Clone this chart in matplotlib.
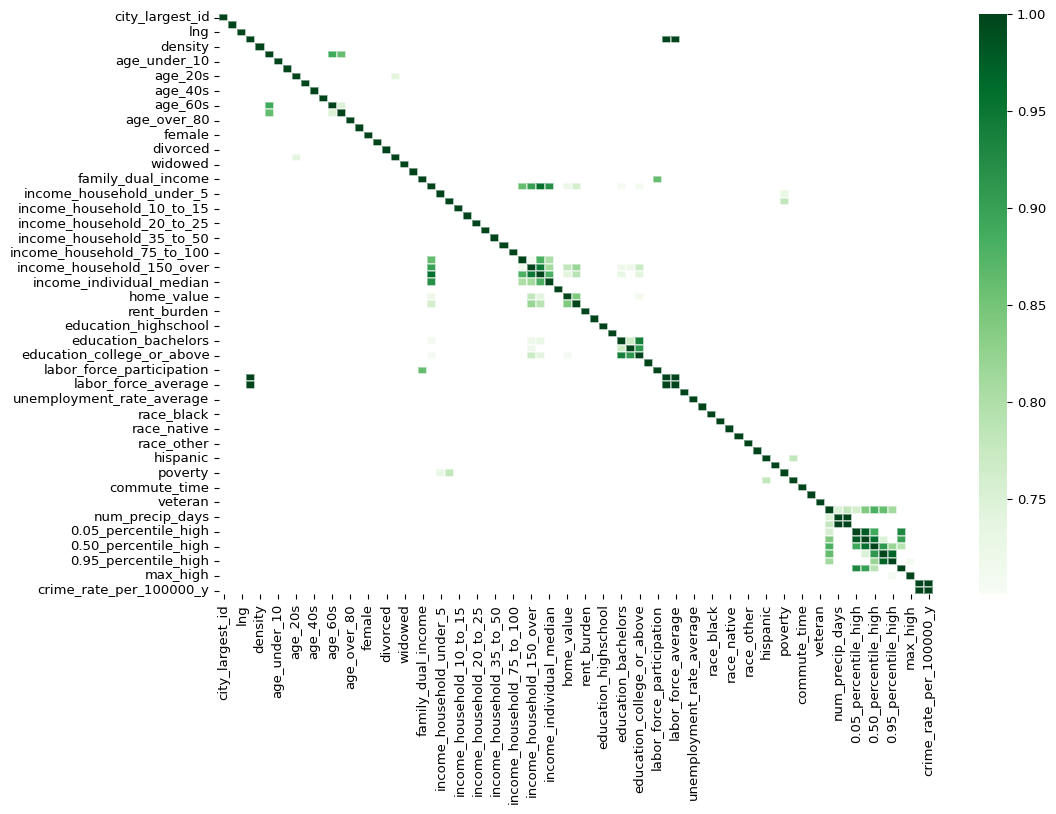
import numpy as np
import pandas as pd
import matplotlib
matplotlib.use("Agg")
import matplotlib.pyplot as plt
import seaborn as sns
from matplotlib.ticker import FormatStrFormatter

# ---- data -------------------------------------------------------------
names = [
    "city_largest_id", "lat", "lng", "population", "density", "age_median",
    "age_under_10", "age_10s", "age_20s", "age_30s", "age_40s", "age_50s",
    "age_60s", "age_70s", "age_over_80", "male", "female", "married",
    "divorced", "never_married", "widowed", "family_size", "family_dual_income",
    "income_household_median", "income_household_under_5",
    "income_household_5_to_10", "income_household_10_to_15",
    "income_household_15_to_20", "income_household_20_to_25",
    "income_household_25_to_35", "income_household_35_to_50",
    "income_household_50_to_75", "income_household_75_to_100",
    "income_household_100_to_150", "income_household_150_over",
    "income_household_six_figure", "income_individual_median",
    "home_ownership", "home_value", "rent_median", "rent_burden",
    "education_less_highschool", "education_highschool",
    "education_some_college", "education_bachelors", "education_graduate",
    "education_college_or_above", "education_stem_degree",
    "labor_force_participation", "labor_force_total", "labor_force_average",
    "unemployment_rate", "unemployment_rate_average", "race_white",
    "race_black", "race_asian", "race_native", "race_pacific", "race_other",
    "race_multiple", "hispanic", "disabled", "poverty", "limited_english",
    "commute_time", "health_uninsured", "veteran", "avg_high",
    "num_precip_days", "num_rain_days", "0.05_percentile_high",
    "0.25_percentile_high", "0.50_percentile_high", "0.75_percentile_high",
    "0.95_percentile_high", "min_high", "max_high",
    "crime_rate_per_100000_x", "crime_rate_per_100000_y",
]

# strong correlations (>= 0.70) above the diagonal: row index, column index, value
pair_rows = [3, 3, 49, 5, 5, 8, 12, 22,
             23, 23, 23, 23, 23, 23, 23, 23,
             24, 25,
             33, 33, 33,
             34, 34, 34, 34, 34, 34, 34,
             35, 35, 35, 35, 35,
             38, 38, 44, 44, 45,
             60,
             67, 67, 67, 67, 67, 67, 67,
             68, 70, 70, 70, 71, 71, 71,
             72, 72, 72, 73, 74, 77]
pair_cols = [49, 50, 50, 12, 13, 19, 13, 48,
             33, 34, 35, 36, 38, 39, 44, 46,
             62, 62,
             34, 35, 36,
             35, 36, 38, 39, 44, 45, 46,
             36, 38, 39, 44, 46,
             39, 46, 45, 46, 46,
             63,
             68, 69, 70, 71, 72, 73, 74,
             69, 71, 72, 75, 72, 73, 75,
             73, 74, 75, 74, 76, 78]
pair_vals = [0.999, 0.999, 0.999, 0.89, 0.86, 0.74, 0.75, 0.86,
             0.86, 0.90, 0.96, 0.92, 0.72, 0.76, 0.71, 0.71,
             0.73, 0.78,
             0.71, 0.88, 0.80,
             0.95, 0.81, 0.78, 0.82, 0.72, 0.72, 0.77,
             0.88, 0.74, 0.79, 0.73, 0.74,
             0.84, 0.71, 0.77, 0.94, 0.91,
             0.78,
             0.75, 0.78, 0.76, 0.84, 0.88, 0.86, 0.81,
             0.999, 0.98, 0.89, 0.93, 0.96, 0.75, 0.90,
             0.91, 0.82, 0.79, 0.97, 0.71, 0.999]

# ---- build matrix -----------------------------------------------------
n = len(names)
corr = np.full((n, n), np.nan)
np.fill_diagonal(corr, 1.0)
for r, c, v in zip(pair_rows, pair_cols, pair_vals):
    corr[r, c] = v
    corr[c, r] = v
df = pd.DataFrame(corr, index=names, columns=names)
mask = np.isnan(corr)

# ---- plot -------------------------------------------------------------
fig = plt.figure(figsize=(10.56, 8.14), dpi=100)
ax = fig.add_axes([0.2077, 0.2699, 0.6761, 0.7129])
cax = fig.add_axes([0.9271, 0.2699, 0.0265, 0.7129])

sns.heatmap(df, mask=mask, cmap="Greens", vmin=0.701, vmax=1.0,
            ax=ax, cbar_ax=cax, xticklabels=2, yticklabels=2,
            linewidths=0.35, linecolor=(1, 1, 1, 0.45))

ax.tick_params(axis="x", labelrotation=90, labelsize=9.5)
ax.tick_params(axis="y", labelrotation=0, labelsize=9.5)

cax.set_yticks([0.75, 0.80, 0.85, 0.90, 0.95, 1.00])
cax.yaxis.set_major_formatter(FormatStrFormatter("%.2f"))
cax.tick_params(labelsize=9.5)

fig.savefig("out.png", dpi=100)
